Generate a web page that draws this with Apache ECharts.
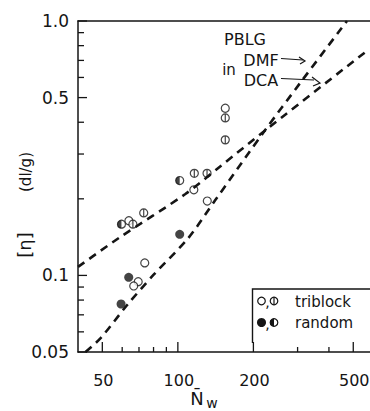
<!DOCTYPE html>
<html><head><meta charset="utf-8">
<script src="https://cdn.jsdelivr.net/npm/echarts@6/dist/echarts.min.js"></script>
<style>html,body{margin:0;padding:0;background:#fff}#c{width:370px;height:411px}</style>
</head><body><div id="c"></div>
<script>
// axis ranges and ticks
const xMin = 40, xMax = 583, yMin = 0.05, yMax = 1.0;
const xTickValues = [50, 100, 200, 500];
const xTickLabels = ['50', '100', '200', '500'];
const xMinorTicks = [60, 70, 80, 90, 300, 400];
const yTickValues = [0.05, 0.1, 0.5, 1.0];
const yTickLabels = ['0.05', '0.1', '0.5', '1.0'];
const yMinorTicks = [0.06, 0.07, 0.08, 0.09, 0.2, 0.3, 0.4, 0.6, 0.7, 0.8, 0.9];

// triblock: open circles
const triOpenN   = [63.8, 115.8, 131.0, 154.5, 69.5, 66.7, 73.8];
const triOpenEta = [0.164, 0.217, 0.196, 0.454, 0.0945, 0.0909, 0.112];
// triblock: barred circles
const triBarN   = [66.2, 73.1, 116.3, 130.7, 154.5, 154.5];
const triBarEta = [0.159, 0.176, 0.252, 0.252, 0.416, 0.341];
// random: filled circles
const randFullN   = [63.7, 59.4, 101.7];
const randFullEta = [0.0983, 0.0772, 0.145];
// random: half-filled circles
const randHalfN   = [59.6, 101.7];
const randHalfEta = [0.159, 0.236];
// PBLG curves
const dmfN   = [42.85, 49.2, 62.8, 79.9, 110.1, 141.0, 222.8, 307.1, 472];
const dmfEta = [0.050, 0.0567, 0.0765, 0.1004, 0.1403, 0.1978, 0.3727, 0.5705, 1.0];
const dcaN   = [40, 58.2, 107.1, 144.9, 229.1, 572.5];
const dcaEta = [0.108, 0.1403, 0.2089, 0.2644, 0.3797, 0.769];

const zip = (a, b) => a.map((v, i) => [v, b[i]]);
const INK = '#151515';
const FONT = '"DejaVu Sans", sans-serif';

const openStyle = { color: '#fff', borderColor: INK, borderWidth: 1.2 };
const barPath = 'path://M10 0A10 10 0 1 1 10 20A10 10 0 1 1 10 0ZM10 0L10 20';
const halfPath = 'path://M10 0A10 10 0 0 0 10 20Z';

const chart = echarts.init(document.getElementById('c'), null, { renderer: 'svg' });
const hideAxis = { axisTick: { show: false }, axisLabel: { show: false }, splitLine: { show: false } };
chart.setOption({
  animation: false,
  grid: { left: 78, right: 0, top: 21, bottom: 59 },
  xAxis: [
    Object.assign({ type: 'log', logBase: 10, min: xMin, max: xMax, position: 'bottom',
      axisLine: { show: true, lineStyle: { color: INK, width: 1.5 } } }, hideAxis),
    Object.assign({ type: 'log', logBase: 10, min: xMin, max: xMax, position: 'top',
      axisLine: { show: true, lineStyle: { color: INK, width: 1.5 } } }, hideAxis)
  ],
  yAxis: Object.assign({ type: 'log', logBase: 10, min: yMin, max: yMax,
    axisLine: { show: true, lineStyle: { color: INK, width: 1.5 } } }, hideAxis),
  series: [
    { type: 'line', data: zip(dmfN, dmfEta), smooth: 0.3, showSymbol: false, symbol: 'none',
      lineStyle: { color: INK, width: 2.6, type: [8, 6] } },
    { type: 'line', data: zip(dcaN, dcaEta), smooth: 0.3, showSymbol: false, symbol: 'none',
      lineStyle: { color: INK, width: 2.6, type: [8, 6] } },
    { type: 'scatter', data: zip(triOpenN, triOpenEta), symbol: 'circle', symbolSize: 8, itemStyle: openStyle },
    { type: 'scatter', data: zip(triBarN, triBarEta), symbol: barPath, symbolSize: 8, itemStyle: openStyle },
    { type: 'scatter', data: zip(randFullN, randFullEta), symbol: 'circle', symbolSize: 9, itemStyle: { color: INK } },
    { type: 'scatter', data: zip(randHalfN, randHalfEta), symbol: 'circle', symbolSize: 8, itemStyle: openStyle },
    { type: 'scatter', data: zip(randHalfN, randHalfEta), symbol: halfPath, symbolSize: [4, 8], symbolOffset: [-2, 0],
      itemStyle: { color: INK } },
    // y ticks (inward)
    { type: 'custom', clip: false, silent: true,
      data: yTickValues.map(v => [xMin, v, 1]).concat(yMinorTicks.map(v => [xMin, v, 0])),
      renderItem: (params, api) => {
        const p = api.coord([api.value(0), api.value(1)]);
        const len = api.value(2) ? 9 : 6;
        return { type: 'line', shape: { x1: p[0], y1: p[1], x2: p[0] + len, y2: p[1] }, style: { stroke: INK, lineWidth: 1.3 } };
      } },
    // x ticks (inward)
    { type: 'custom', clip: false, silent: true,
      data: xTickValues.map(v => [v, yMin, 1]).concat(xMinorTicks.map(v => [v, yMin, 0])),
      renderItem: (params, api) => {
        const p = api.coord([api.value(0), api.value(1)]);
        const len = api.value(2) ? 10 : 5;
        return { type: 'line', shape: { x1: p[0], y1: p[1], x2: p[0], y2: p[1] - len }, style: { stroke: INK, lineWidth: 1.3 } };
      } },
    // y labels
    { type: 'custom', clip: false, silent: true,
      data: yTickValues.map(v => [xMin, v]),
      renderItem: (params, api) => {
        const p = api.coord([api.value(0), api.value(1)]);
        return { type: 'text', x: p[0] - 9, y: p[1], style: { text: yTickLabels[params.dataIndex], fill: INK,
          font: '17px ' + FONT, align: 'right', verticalAlign: 'middle' } };
      } },
    // x labels
    { type: 'custom', clip: false, silent: true,
      data: xTickValues.map(v => [v, yMin]),
      renderItem: (params, api) => {
        const p = api.coord([api.value(0), api.value(1)]);
        return { type: 'text', x: p[0] + 1, y: p[1] + 28, style: { text: xTickLabels[params.dataIndex], fill: INK,
          font: '16px ' + FONT, align: 'center', verticalAlign: 'middle' } };
      } }
  ],
  graphic: [
    { type: 'text', x: 24, y: 245, rotation: Math.PI / 2, style: { text: '[η]', fill: INK, font: '18px ' + FONT, align: 'center', verticalAlign: 'middle' } },
    { type: 'text', x: 26, y: 172, rotation: Math.PI / 2, style: { text: '(dl/g)', fill: INK, font: '15px ' + FONT, align: 'center', verticalAlign: 'middle' } },
    { type: 'text', x: 197, y: 398, style: { text: 'N\u0304', fill: INK, font: '18px ' + FONT, align: 'center', verticalAlign: 'middle' } },
    { type: 'text', x: 212, y: 403, style: { text: 'w', fill: INK, font: '14px ' + FONT, align: 'center', verticalAlign: 'middle' } },
    { type: 'text', x: 245, y: 39, style: { text: 'PBLG', fill: INK, font: '16px ' + FONT, align: 'center', verticalAlign: 'middle' } },
    { type: 'text', x: 229, y: 70, style: { text: 'in', fill: INK, font: '15px ' + FONT, align: 'center', verticalAlign: 'middle' } },
    { type: 'text', x: 261, y: 60, style: { text: 'DMF', fill: INK, font: '16px ' + FONT, align: 'center', verticalAlign: 'middle' } },
    { type: 'text', x: 261, y: 80.5, style: { text: 'DCA', fill: INK, font: '16px ' + FONT, align: 'center', verticalAlign: 'middle' } },
    { type: 'polyline', shape: { points: [[281, 58.5], [303, 60]] }, style: { stroke: INK, lineWidth: 1.2, fill: null } },
    { type: 'polyline', shape: { points: [[299, 57], [305, 61], [300, 64]] }, style: { stroke: INK, lineWidth: 1.2, fill: null } },
    { type: 'polyline', shape: { points: [[281, 78.5], [314, 80]] }, style: { stroke: INK, lineWidth: 1.2, fill: null } },
    { type: 'polyline', shape: { points: [[312, 77], [320, 83], [313, 86]] }, style: { stroke: INK, lineWidth: 1.2, fill: null } },
    // legend box
    { type: 'polyline', shape: { points: [[370, 289], [252.5, 289], [252.5, 343]] }, style: { stroke: INK, lineWidth: 1.4, fill: null } },
    { type: 'circle', shape: { cx: 261.5, cy: 301, r: 3.8 }, style: { stroke: INK, fill: '#fff', lineWidth: 1.2 } },
    { type: 'text', x: 267.5, y: 302, style: { text: ',', fill: INK, font: '14px ' + FONT, align: 'center', verticalAlign: 'middle' } },
    { type: 'circle', shape: { cx: 274, cy: 301, r: 3.8 }, style: { stroke: INK, fill: '#fff', lineWidth: 1.2 } },
    { type: 'line', shape: { x1: 274, y1: 297.2, x2: 274, y2: 304.8 }, style: { stroke: INK, lineWidth: 1.2 } },
    { type: 'text', x: 295, y: 302, style: { text: 'triblock', fill: INK, font: '15px ' + FONT, align: 'left', verticalAlign: 'middle' } },
    { type: 'circle', shape: { cx: 261.5, cy: 322.5, r: 4.5 }, style: { fill: INK } },
    { type: 'text', x: 267.5, y: 323.5, style: { text: ',', fill: INK, font: '14px ' + FONT, align: 'center', verticalAlign: 'middle' } },
    { type: 'circle', shape: { cx: 274, cy: 322.5, r: 3.8 }, style: { stroke: INK, fill: '#fff', lineWidth: 1.2 } },
    { type: 'sector', shape: { cx: 274, cy: 322.5, r0: 0, r: 3.8, startAngle: Math.PI / 2, endAngle: Math.PI * 1.5, clockwise: true }, style: { fill: INK } },
    { type: 'text', x: 295, y: 322.5, style: { text: 'random', fill: INK, font: '15px ' + FONT, align: 'left', verticalAlign: 'middle' } }
  ]
});
</script></body></html>
